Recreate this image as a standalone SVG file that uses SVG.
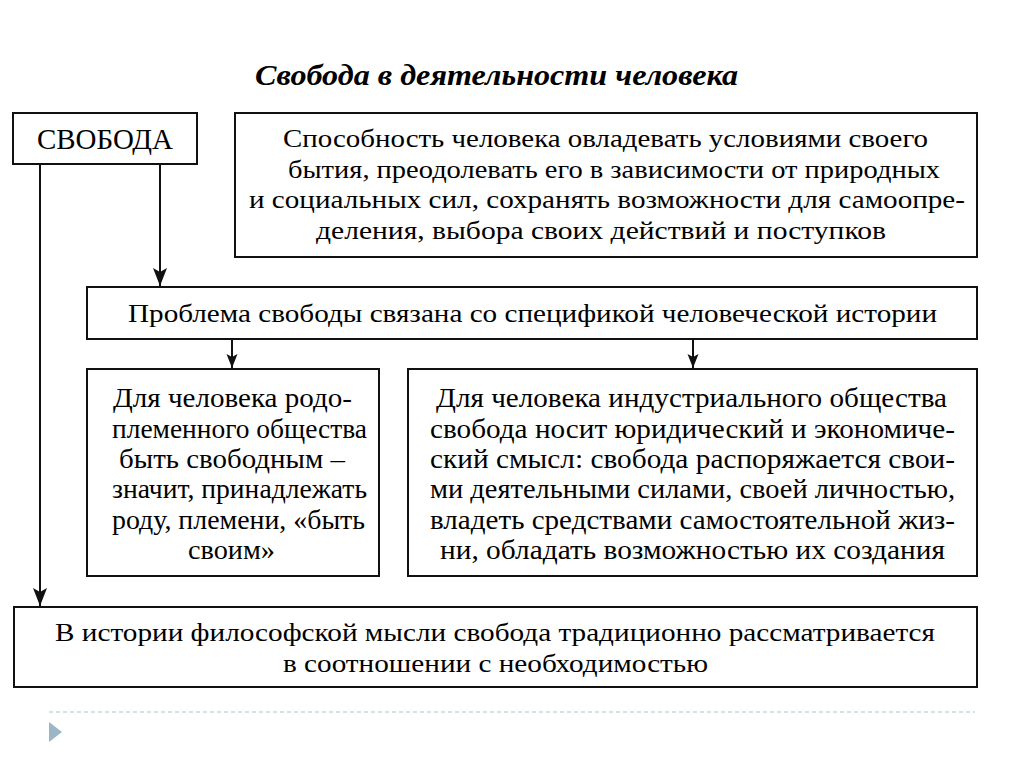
<svg xmlns="http://www.w3.org/2000/svg" width="1024" height="767" viewBox="0 0 1024 767">
<style>
.box{fill:#fff;stroke:#111;stroke-width:2}
.t{font-family:"Liberation Serif","Times New Roman",serif;fill:#000}
.s25{font-size:26px}
.s27{font-size:28px}
.title{font-family:"Liberation Serif","Times New Roman",serif;font-size:30px;font-weight:bold;font-style:italic;fill:#000}
.conn{stroke:#111;stroke-width:2;fill:none}
</style>
<defs>
<marker id="ah" viewBox="0 0 18 16" refX="18" refY="8" markerWidth="18" markerHeight="16" markerUnits="userSpaceOnUse" orient="auto">
<path d="M0,1 L18,8 L0,15 L4,8 Z" fill="#111"/>
</marker>
<marker id="ahs" viewBox="0 0 14 12" refX="14" refY="6" markerWidth="14" markerHeight="12" markerUnits="userSpaceOnUse" orient="auto">
<path d="M0,0.5 L14,6 L0,11.5 L3,6 Z" fill="#111"/>
</marker>
</defs>
<rect width="1024" height="767" fill="#fff"/>
<text class="title" x="255" y="85" textLength="483" lengthAdjust="spacingAndGlyphs">Свобода в деятельности человека</text>

<g id="connectors">
<line class="conn" x1="160" y1="164" x2="160" y2="286" marker-end="url(#ah)"/>
<line class="conn" x1="40" y1="164" x2="40" y2="606" marker-end="url(#ah)"/>
<line class="conn" x1="232" y1="339" x2="232" y2="368" marker-end="url(#ahs)"/>
<line class="conn" x1="693" y1="339" x2="693" y2="368" marker-end="url(#ahs)"/>
</g>

<g id="node-svoboda">
<rect class="box" x="13" y="113" width="184" height="51"/>
<text class="t" x="37" y="149" font-size="29" textLength="136" lengthAdjust="spacingAndGlyphs">СВОБОДА</text>
</g>

<g id="node-definition">
<rect class="box" x="235" y="113" width="742" height="144"/>
<text class="t s25" x="283" y="147" textLength="645" lengthAdjust="spacingAndGlyphs">Способность человека овладевать условиями своего</text>
<text class="t s25" x="288" y="178" textLength="652" lengthAdjust="spacingAndGlyphs">бытия, преодолевать его в зависимости от природных</text>
<text class="t s25" x="249" y="208" textLength="716" lengthAdjust="spacingAndGlyphs">и социальных сил, сохранять возможности для самоопре-</text>
<text class="t s25" x="316" y="239" textLength="570" lengthAdjust="spacingAndGlyphs">деления, выбора своих действий и поступков</text>
</g>

<g id="node-problem">
<rect class="box" x="87" y="287" width="890" height="52"/>
<text class="t s25" x="128" y="322" textLength="809" lengthAdjust="spacingAndGlyphs">Проблема свободы связана со спецификой человеческой истории</text>
</g>

<g id="node-tribal">
<rect class="box" x="87" y="369" width="292" height="207"/>
<text class="t s27" x="113" y="407" textLength="239" lengthAdjust="spacingAndGlyphs">Для человека родо-</text>
<text class="t s27" x="112" y="437.5" textLength="255" lengthAdjust="spacingAndGlyphs">племенного общества</text>
<text class="t s27" x="119" y="468" textLength="226" lengthAdjust="spacingAndGlyphs">быть свободным –</text>
<text class="t s27" x="112" y="498" textLength="255" lengthAdjust="spacingAndGlyphs">значит, принадлежать</text>
<text class="t s27" x="112" y="529" textLength="253" lengthAdjust="spacingAndGlyphs">роду, племени, «быть</text>
<text class="t s27" x="188" y="559" textLength="87" lengthAdjust="spacingAndGlyphs">своим»</text>
</g>

<g id="node-industrial">
<rect class="box" x="408" y="369" width="569" height="207"/>
<text class="t s27" x="436" y="407" textLength="511" lengthAdjust="spacingAndGlyphs">Для человека индустриального общества</text>
<text class="t s27" x="430" y="437.5" textLength="525" lengthAdjust="spacingAndGlyphs">свобода носит юридический и экономиче-</text>
<text class="t s27" x="430" y="468" textLength="525" lengthAdjust="spacingAndGlyphs">ский смысл: свобода распоряжается свои-</text>
<text class="t s27" x="430" y="498" textLength="525" lengthAdjust="spacingAndGlyphs">ми деятельными силами, своей личностью,</text>
<text class="t s27" x="430" y="529" textLength="525" lengthAdjust="spacingAndGlyphs">владеть средствами самостоятельной жиз-</text>
<text class="t s27" x="440" y="559" textLength="505" lengthAdjust="spacingAndGlyphs">ни, обладать возможностью их создания</text>
</g>

<g id="node-history">
<rect class="box" x="14" y="607" width="963" height="80"/>
<text class="t s25" x="55" y="641" textLength="880" lengthAdjust="spacingAndGlyphs">В истории философской мысли свобода традиционно рассматривается</text>
<text class="t s25" x="283" y="672" textLength="425" lengthAdjust="spacingAndGlyphs">в соотношении с необходимостью</text>
</g>

<line x1="49" y1="712" x2="975" y2="712" stroke="#a9c3cf" stroke-width="1" stroke-dasharray="4 3"/>
<polygon points="49,722 62,732 49,742" fill="#9bb6c6"/>
</svg>
